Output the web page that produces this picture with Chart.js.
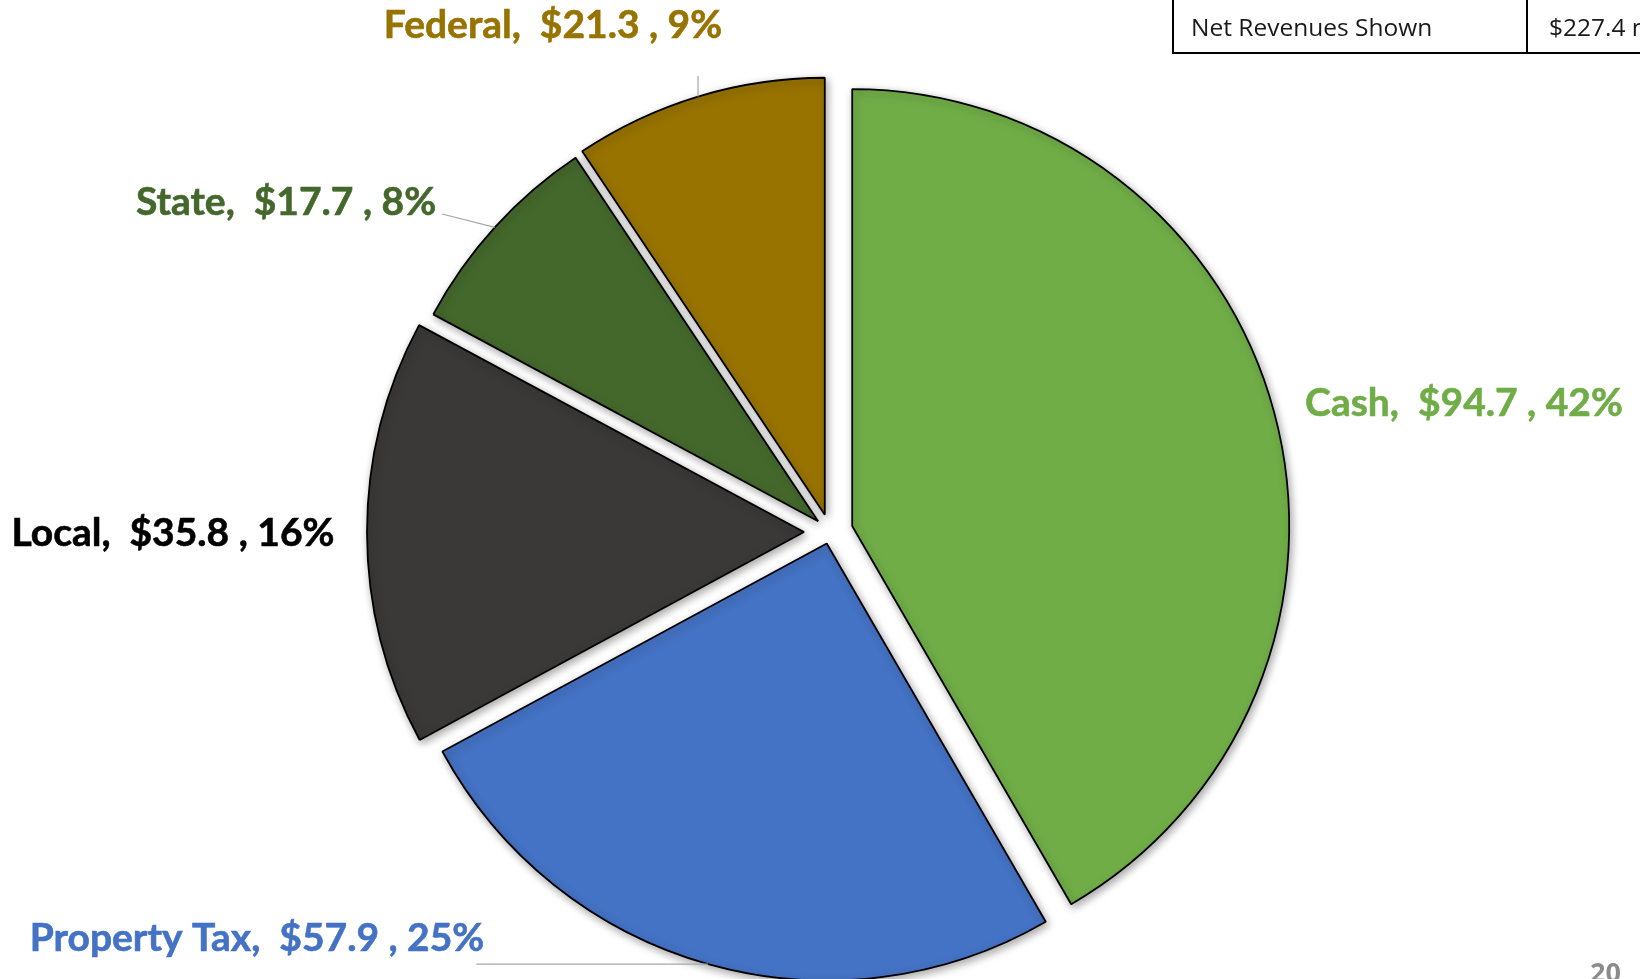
<!DOCTYPE html>
<html>
<head>
<meta charset="utf-8">
<script src="https://cdn.jsdelivr.net/npm/chart.js@4"></script>
<style>
  html, body { margin: 0; padding: 0; background: #fff; overflow: hidden; }
  body { width: 1640px; height: 979px; position: relative; }
  #pie { position: absolute; left: 0; top: 0; }
  .net {
    position: absolute; left: 1172px; top: -3px; width: 600px;
    table-layout: fixed; border-collapse: collapse;
    font-family: "Open Sans", sans-serif;
    font-size: 24.5px; color: #1a1a1a; white-space: nowrap;
  }
  .net td { border: 2px solid #000; height: 51px; padding: 2px 0 0 17px; overflow: hidden; }
  .net td.label { width: 335px; }
  .net td.value { padding-left: 21px; }
  .page {
    position: absolute; left: 1590px; top: 958px;
    font: bold 27px "Open Sans", sans-serif; color: #8c8c8c; line-height: 27px;
  }
</style>
</head>
<body>
<canvas id="pie" width="1640" height="979"></canvas>
<table class="net"><tr><td class="label">Net Revenues Shown</td><td class="value">$227.4 million</td></tr></table>
<div class="page">20</div>
<script>
const categories = ["Cash", "Property Tax", "Local", "State", "Federal"];
const revenues = [94.7, 57.9, 35.8, 17.7, 21.3];
const sliceColors = ["#70AD47", "#4472C4", "#3B3838", "#44682C", "#987300"];
const labelColors = ["#70AD47", "#4472C4", "#000000", "#44682C", "#987300"];

const total = revenues.reduce((a, b) => a + b, 0);

// how far each slice is pulled out from the centre (px)
const explodeBy = [23, 12, 26, 16, 18];

// label placement: centre x, text baseline y, kind of leader line
const labelPos = [
  { x: 1464, y: 416 },
  { x: 257, y: 951, leader: "h" },
  { x: 173, y: 546 },
  { x: 286, y: 215, leader: "d" },
  { x: 553, y: 38, leader: "v" }
];

const explode = {
  id: "explode",
  afterDatasetUpdate(chart, args) {
    args.meta.data.forEach((arc, i) => {
      const mid = (arc.startAngle + arc.endAngle) / 2;
      arc.x += Math.cos(mid) * explodeBy[i];
      arc.y += Math.sin(mid) * explodeBy[i];
    });
  }
};

const shadow = {
  id: "shadow",
  beforeDatasetsDraw(chart) {
    const c = chart.ctx;
    c.save();
    c.shadowColor = "rgba(0,0,0,0.35)";
    c.shadowBlur = 9;
    c.shadowOffsetX = 2;
    c.shadowOffsetY = 3;
  },
  afterDatasetsDraw(chart) {
    chart.ctx.restore();
  }
};

const sliceLabels = {
  id: "sliceLabels",
  afterDraw(chart) {
    const c = chart.ctx;
    const arcs = chart.getDatasetMeta(0).data;
    c.save();
    c.font = "bold 39px Lato";
    c.textAlign = "center";
    c.textBaseline = "alphabetic";
    arcs.forEach((arc, i) => {
      const pct = Math.round(revenues[i] / total * 100);
      const text = categories[i] + ",  $" + revenues[i].toFixed(1) + " , " + pct + "%";
      const p = labelPos[i];
      const w = c.measureText(text).width;
      c.fillStyle = labelColors[i];
      // slight double pass to thicken the strokes a little
      c.fillText(text, p.x, p.y);
      c.lineWidth = 0.6;
      c.strokeStyle = labelColors[i];
      c.strokeText(text, p.x, p.y);

      if (!p.leader) return;
      const mid = (arc.startAngle + arc.endAngle) / 2;
      const ex = arc.x + Math.cos(mid) * arc.outerRadius;
      const ey = arc.y + Math.sin(mid) * arc.outerRadius;
      let tx, ty;
      if (p.leader === "v") { tx = ex; ty = p.y + 38; }
      if (p.leader === "d") { tx = p.x + w / 2 + 6; ty = p.y - 1; }
      if (p.leader === "h") { tx = p.x + w / 2 - 8; ty = ey; }
      c.strokeStyle = "#a6a6a6";
      c.lineWidth = 1.2;
      c.beginPath();
      c.moveTo(ex, ey);
      c.lineTo(tx, ty);
      c.stroke();
    });
    c.restore();
  }
};

new Chart(document.getElementById("pie"), {
  type: "pie",
  data: {
    labels: categories,
    datasets: [{
      data: revenues,
      backgroundColor: sliceColors,
      borderColor: "#000",
      borderWidth: 1.8,
      clip: false
    }]
  },
  options: {
    responsive: false,
    animation: false,
    radius: 437,
    layout: { padding: { left: 20, right: 0, top: 85, bottom: 0 } },
    plugins: {
      legend: { display: false },
      tooltip: { enabled: false }
    }
  },
  plugins: [explode, shadow, sliceLabels]
});
</script>
</body>
</html>
